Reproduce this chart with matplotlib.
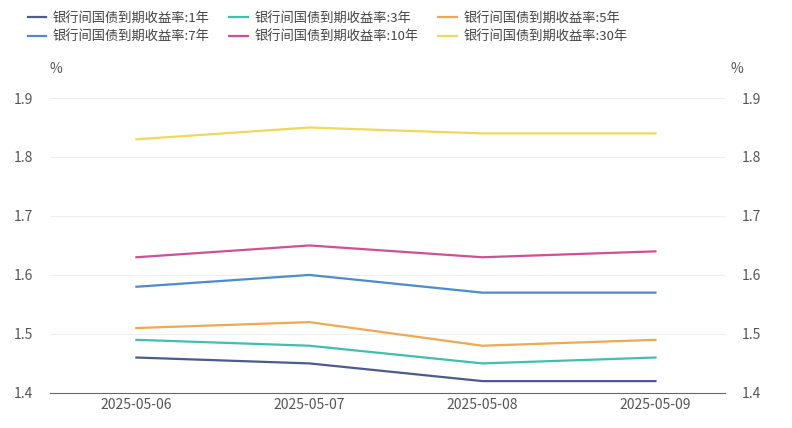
import matplotlib
matplotlib.use("Agg")
import matplotlib.pyplot as plt
from matplotlib import font_manager as fm

cjk = [f.name for f in fm.fontManager.ttflist if "CJK" in f.name]
if not cjk:
    import glob
    for p in glob.glob("/usr/share/fonts/**/*CJK*", recursive=True):
        try:
            fm.fontManager.addfont(p)
        except Exception:
            pass
    cjk = [f.name for f in fm.fontManager.ttflist if "CJK" in f.name]
pref = [n for n in cjk if "SC" in n] or cjk
plt.rcParams["font.family"] = (pref[:1] if pref else []) + ["DejaVu Sans"]

dates = ["2025-05-06", "2025-05-07", "2025-05-08", "2025-05-09"]
names = ["银行间国债到期收益率:1年", "银行间国债到期收益率:3年", "银行间国债到期收益率:5年",
         "银行间国债到期收益率:7年", "银行间国债到期收益率:10年", "银行间国债到期收益率:30年"]
y1 = [1.46, 1.45, 1.42, 1.42]
y3 = [1.49, 1.48, 1.45, 1.46]
y5 = [1.51, 1.52, 1.48, 1.49]
y7 = [1.58, 1.60, 1.57, 1.57]
y10 = [1.63, 1.65, 1.63, 1.64]
y30 = [1.83, 1.85, 1.84, 1.84]
series = [y1, y3, y5, y7, y10, y30]
colors = ["#4b5a8f", "#3fbfb0", "#f0a851", "#4a8bd1", "#d14f93", "#f0d85a"]
yticks = [1.4, 1.5, 1.6, 1.7, 1.8, 1.9]

fig = plt.figure(figsize=(7.92, 4.28), dpi=100)
ax = fig.add_axes([0.063, 0.082, 0.852, 0.689])
x = list(range(len(dates)))
handles = []
for s, c, n in zip(series, colors, names):
    h, = ax.plot(x, s, color=c, lw=1.6, label=n)
    handles.append(h)
ax.set_xlim(-0.5, 3.4)
ax.set_ylim(1.4, 1.9)
ax.set_yticks(yticks)
ax.set_yticklabels([f"{t:.1f}" for t in yticks])
ax.set_xticks(x)
ax.set_xticklabels(dates)
ax.grid(axis="y", color="#eeeeee", lw=0.8)
for sp in ["top", "right", "left"]:
    ax.spines[sp].set_visible(False)
ax.spines["bottom"].set_color("#666666")
ax.tick_params(axis="both", length=0, colors="#555555", labelsize=10)
ax.tick_params(axis="y", pad=12)
ax2 = ax.twinx()
ax2.set_ylim(1.4, 1.9)
ax2.set_yticks(yticks)
ax2.set_yticklabels([f"{t:.1f}" for t in yticks])
for sp in ["top", "right", "left", "bottom"]:
    ax2.spines[sp].set_visible(False)
ax2.tick_params(axis="y", length=0, colors="#555555", labelsize=10, pad=12)
fig.text(0.07, 0.83, "%", color="#555555", fontsize=10, ha="center")
fig.text(0.93, 0.83, "%", color="#555555", fontsize=10, ha="center")
order = [0, 3, 1, 4, 2, 5]
fig.legend([handles[i] for i in order], [names[i] for i in order],
           loc="upper left", bbox_to_anchor=(0.02, 1.0), ncol=3, frameon=False,
           fontsize=9.5, handlelength=1.4, columnspacing=1.5, labelspacing=0.4,
           handletextpad=0.5, labelcolor="#444444")
fig.savefig("out.png", dpi=100)
